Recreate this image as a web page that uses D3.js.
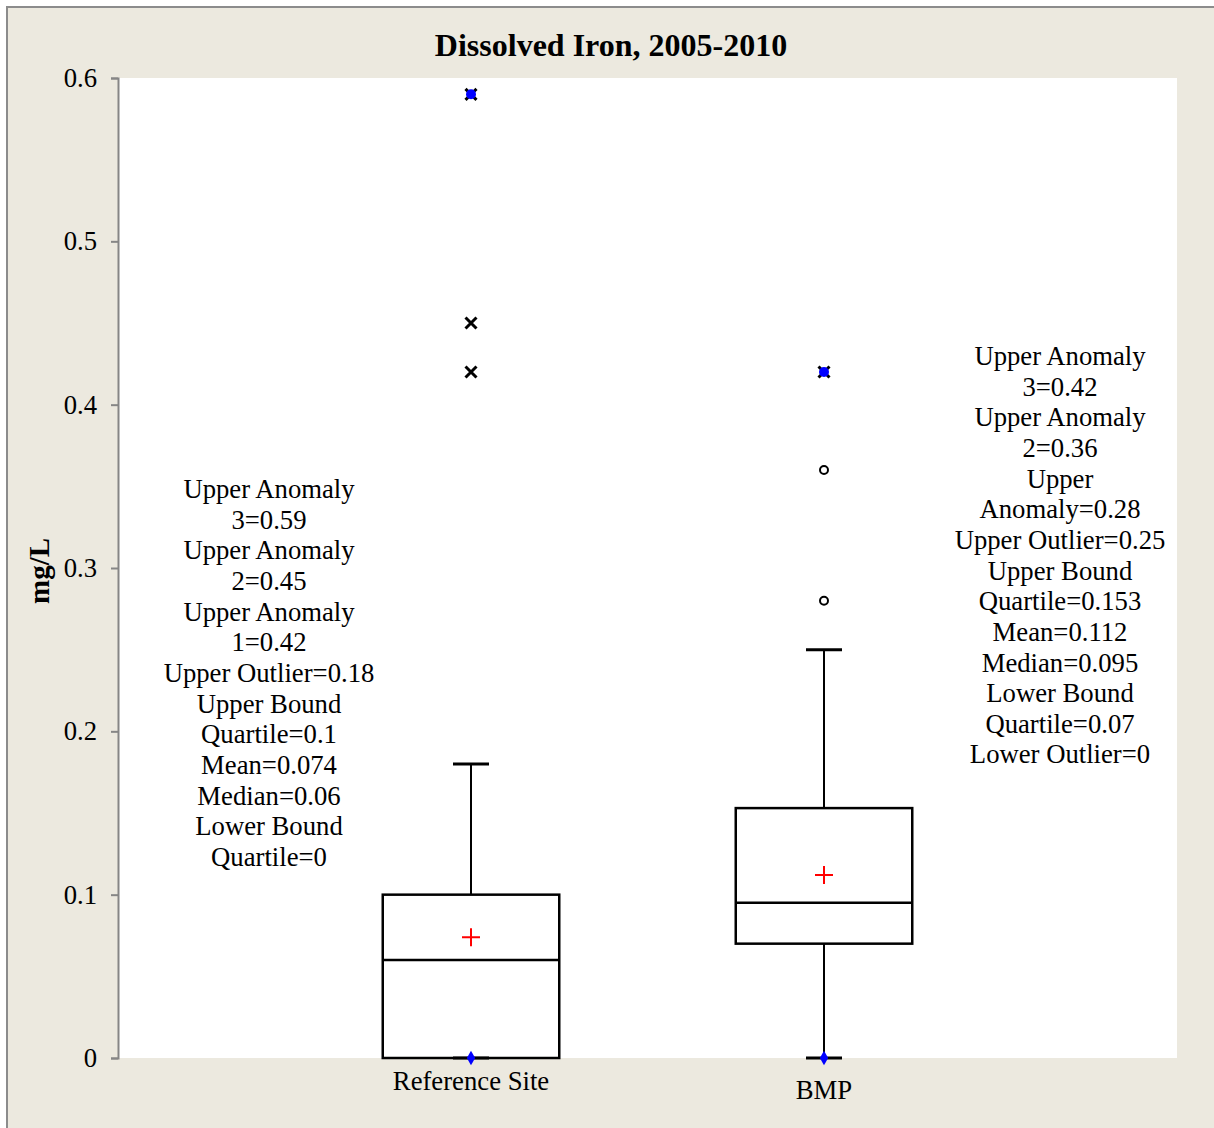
<!DOCTYPE html>
<html>
<head>
    <title>Dissolved Iron, 2005-2010</title>
    <script src="https://d3js.org/d3.v7.min.js"></script>
    <style>
        body { margin: 0; background: #fff; }
        text { font-family: "Liberation Serif", "Times New Roman", serif; fill: #000; }
    </style>
</head>
<body>
    <div id="chart"></div>
    <script>
        // data
        const categories = ["Reference Site", "BMP"];
        const q1 = [0, 0.07];
        const median = [0.06, 0.095];
        const q3 = [0.1, 0.153];
        const mean = [0.074, 0.112];
        const lowerWhisker = [0, 0];
        const upperWhisker = [0.18, 0.25];
        const minimum = [0, 0];
        const maximum = [0.59, 0.42];
        const anomalies = [[0.42, 0.45, 0.59], [0.42]];
        const outliers = [[], [0.28, 0.36]];
        const yTicks = [0, 0.1, 0.2, 0.3, 0.4, 0.5, 0.6];
        const notes = [
            ["Upper Anomaly", "3=0.59", "Upper Anomaly", "2=0.45", "Upper Anomaly", "1=0.42",
             "Upper Outlier=0.18", "Upper Bound", "Quartile=0.1", "Mean=0.074", "Median=0.06",
             "Lower Bound", "Quartile=0"],
            ["Upper Anomaly", "3=0.42", "Upper Anomaly", "2=0.36", "Upper", "Anomaly=0.28",
             "Upper Outlier=0.25", "Upper Bound", "Quartile=0.153", "Mean=0.112", "Median=0.095",
             "Lower Bound", "Quartile=0.07", "Lower Outlier=0"]
        ];

        const W = 1214, H = 1128;
        const plot = { left: 118, top: 78, right: 1177, bottom: 1058 };
        const fs = 26.7;

        const svg = d3.select("#chart").append("svg")
            .attr("width", W).attr("height", H);

        // frame
        svg.append("rect").attr("x", 7).attr("y", 7).attr("width", W).attr("height", H)
            .attr("fill", "#ECE9DF").attr("stroke", "#8c8c8c").attr("stroke-width", 2);
        svg.append("rect").attr("x", plot.left).attr("y", plot.top)
            .attr("width", plot.right - plot.left).attr("height", plot.bottom - plot.top)
            .attr("fill", "#fff");

        const x = d3.scalePoint().domain(categories).range([plot.left, plot.right]).padding(1);
        const y = d3.scaleLinear().domain([0, 0.6]).range([plot.bottom, plot.top]);
        const boxW = (plot.right - plot.left) / 6;
        const capW = 36;

        // y axis
        const yAxis = svg.append("g").attr("transform", `translate(${plot.left},0)`)
            .call(d3.axisLeft(y).tickValues(yTicks).tickSize(7).tickPadding(14)
                .tickFormat(d => d === 0 ? "0" : d3.format(".1f")(d)));
        yAxis.select(".domain").attr("stroke", "#868686").attr("stroke-width", 2);
        yAxis.selectAll(".tick line").attr("stroke", "#868686").attr("stroke-width", 2);
        yAxis.selectAll(".tick text").attr("font-size", fs).attr("font-family", "Liberation Serif").attr("fill", "#000");

        // title and axis label
        svg.append("text").attr("x", 611).attr("y", 56).attr("text-anchor", "middle")
            .attr("font-size", 32).attr("font-weight", "bold").text("Dissolved Iron, 2005-2010");
        svg.append("text").attr("transform", "translate(49,571) rotate(-90)")
            .attr("text-anchor", "middle").attr("font-size", 29).attr("font-weight", "bold").text("mg/L");

        // category labels
        const labelY = [1090, 1099];
        categories.forEach((c, i) => {
            svg.append("text").attr("x", x(c)).attr("y", labelY[i]).attr("text-anchor", "middle")
                .attr("font-size", fs).text(c);
        });

        const g = svg.append("g");
        categories.forEach((c, i) => {
            const cx = x(c);
            // whiskers
            g.append("line").attr("x1", cx).attr("x2", cx).attr("y1", y(q3[i])).attr("y2", y(upperWhisker[i]))
                .attr("stroke", "#000").attr("stroke-width", 2);
            g.append("line").attr("x1", cx).attr("x2", cx).attr("y1", y(q1[i])).attr("y2", y(lowerWhisker[i]))
                .attr("stroke", "#000").attr("stroke-width", 2);
            [upperWhisker[i], lowerWhisker[i]].forEach(v => {
                g.append("line").attr("x1", cx - capW / 2).attr("x2", cx + capW / 2)
                    .attr("y1", y(v)).attr("y2", y(v)).attr("stroke", "#000").attr("stroke-width", 3);
            });
            // box
            g.append("rect").attr("x", cx - boxW / 2).attr("y", y(q3[i]))
                .attr("width", boxW).attr("height", y(q1[i]) - y(q3[i]))
                .attr("fill", "none").attr("stroke", "#000").attr("stroke-width", 2.5);
            g.append("line").attr("x1", cx - boxW / 2).attr("x2", cx + boxW / 2)
                .attr("y1", y(median[i])).attr("y2", y(median[i])).attr("stroke", "#000").attr("stroke-width", 2.5);
            // mean
            g.append("path").attr("d", `M${cx - 9},${y(mean[i])}H${cx + 9}M${cx},${y(mean[i]) - 9}V${y(mean[i]) + 9}`)
                .attr("stroke", "#ff0000").attr("stroke-width", 2);
            // outliers
            outliers[i].forEach(v => {
                g.append("circle").attr("cx", cx).attr("cy", y(v)).attr("r", 4)
                    .attr("fill", "#fff").attr("stroke", "#000").attr("stroke-width", 2);
            });
            // anomalies
            anomalies[i].forEach(v => {
                const yy = y(v);
                g.append("path").attr("d", `M${cx - 5.5},${yy - 5.5}L${cx + 5.5},${yy + 5.5}M${cx + 5.5},${yy - 5.5}L${cx - 5.5},${yy + 5.5}`)
                    .attr("stroke", "#000").attr("stroke-width", 3);
            });
            // max point
            g.append("circle").attr("cx", cx).attr("cy", y(maximum[i])).attr("r", 5).attr("fill", "#0000ff");
            // min point
            g.append("path").attr("d", d3.symbol(d3.symbolDiamond, 60)())
                .attr("transform", `translate(${cx},${y(minimum[i])})`).attr("fill", "#0000ff");
        });

        // annotation blocks
        const noteX = [269, 1060];
        const noteTop = [489, 356];
        const lineH = 30.65;
        notes.forEach((lines, i) => {
            const t = svg.append("text").attr("text-anchor", "middle").attr("font-size", fs);
            lines.forEach((s, k) => {
                t.append("tspan").attr("x", noteX[i]).attr("y", noteTop[i] + k * lineH + 9).text(s);
            });
        });
    </script>
</body>
</html>
